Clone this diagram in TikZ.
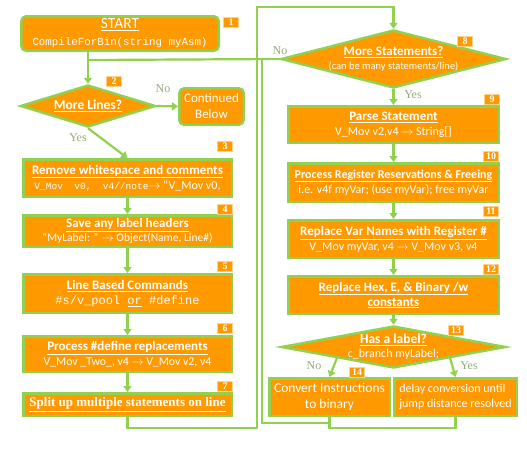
\documentclass[tikz,border=0pt]{standalone}
\usepackage{fontspec}
\setmainfont{Carlito}
\setmonofont{Liberation Mono}
\newfontfamily\serifface{Liberation Serif}
\usetikzlibrary{shapes.geometric,arrows.meta}

\definecolor{boxorange}{RGB}{255,153,0}
\definecolor{linegreen}{RGB}{146,208,80}
\definecolor{labelgray}{RGB}{150,170,120}

\newcommand{\steptitle}[1]{{\fontsize{13}{15}\selectfont\underline{\textbf{#1}}}}

\tikzset{
  stepbox/.style={draw=linegreen, line width=2.5pt, fill=boxorange, text=white, align=center, inner sep=1pt, font=\fontsize{12}{15}\selectfont},
  startbox/.style={stepbox, rounded corners=5pt},
  decision/.style={diamond, draw=linegreen, line width=2.5pt, fill=boxorange, inner sep=0pt},
  decisiontext/.style={text=white, align=center, inner sep=0pt, font=\fontsize{12}{14}\selectfont},
  badge/.style={fill=boxorange, draw=boxorange!45!white, line width=0.5pt, text=white, inner sep=0pt, minimum width=15pt, minimum height=10.5pt, font=\serifface\bfseries\fontsize{10}{10}\selectfont},
  flow/.style={linegreen, line width=2.2pt, -{Triangle[width=8pt,length=6pt]}},
  backline/.style={linegreen, line width=2.2pt},
  answer/.style={text=labelgray, font=\serifface\fontsize{12}{12}\selectfont, inner sep=0.75pt}
}

\begin{document}
\begin{tikzpicture}[x=1pt,y=1pt,yscale=-1,xscale=1]
\useasboundingbox (0,0) rectangle (527,450);

%Left column
\node [startbox, minimum width=197.5pt, minimum height=34.5pt, font=\fontsize{15.5}{17}\selectfont] (start) at (120,33.5) {\underline{START}\\ \texttt{\fontsize{10.8}{12}\selectfont CompileForBin(string myAsm)}};
\node [decision, minimum width=135pt, minimum height=42pt] (morelines) at (88,106) {};
\node [startbox, minimum width=64.5pt, minimum height=36.5pt, font=\fontsize{13}{16}\selectfont] (continued) at (211.5,106.5) {Continued\\ Below};
\node [stepbox, minimum width=208.5pt, minimum height=37.5pt] (remove) at (127.5,178) {\steptitle{Remove whitespace and comments}\\ \texttt{\fontsize{9.5}{12}\selectfont V\_Mov\ \ v0,\ \ v4//note}$\rightarrow$ “V\_Mov v0,};
\node [stepbox, minimum width=208.5pt, minimum height=31.5pt, font=\fontsize{11.5}{14}\selectfont] (labels) at (127.5,231) {\steptitle{Save any label headers}\\ “MyLabel: ” $\rightarrow$ Object(Name, Line\#)};
\node [stepbox, minimum width=208.5pt, minimum height=38.5pt] (linecmds) at (127.5,293.5) {\steptitle{Line Based Commands}\\ \texttt{\#s/v\_pool \underline{or} \#define}};
\node [stepbox, minimum width=208.5pt, minimum height=35.5pt, font=\fontsize{11.8}{15}\selectfont] (defines) at (127.5,354) {\steptitle{Process \#define replacements}\\ V\_Mov \_Two\_, v4 $\rightarrow$ V\_Mov v2, v4};
\node [stepbox, minimum width=208.5pt, minimum height=22.5pt, font=\serifface\bfseries\fontsize{13}{15}\selectfont] (split) at (127.5,404.5) {\underline{Split up multiple statements on line}};

%Right column
\node [decision, minimum width=225pt, minimum height=58pt] (morestmts) at (393.5,59) {};
\node [stepbox, minimum width=210.5pt, minimum height=36.5pt] (parse) at (393.5,124.5) {\steptitle{Parse Statement}\\ V\_Mov v2,v4 $\rightarrow$ String[]};
\node [stepbox, minimum width=210.5pt, minimum height=38.5pt] (regs) at (393.5,182.5) {{\fontsize{12}{15}\selectfont\underline{\textbf{Process Register Reservations \& Freeing}}}\\ i.e. v4f myVar; (use myVar); free myVar};
\node [stepbox, minimum width=210.5pt, minimum height=37.5pt] (varnames) at (393.5,239) {\steptitle{Replace Var Names with Register \#}\\ V\_Mov myVar, v4 $\rightarrow$ V\_Mov v3, v4};
\node [stepbox, minimum width=210.5pt, minimum height=37.5pt] (constants) at (393.5,295) {\steptitle{Replace Hex, E, \& Binary /w}\\ \steptitle{constants}};
\node [decision, minimum width=224pt, minimum height=42pt] (haslabel) at (393.5,347) {};
\node [stepbox, minimum width=120.5pt, minimum height=37.5pt, font=\fontsize{13.5}{16.5}\selectfont] (convert) at (329.5,397) {Convert Instructions\\ to binary};
\node [stepbox, minimum width=122.5pt, minimum height=37.5pt, align=left] (delay) at (455.5,397) {delay conversion until\\ jump distance resolved};

% Text Node
\node [decisiontext] (morelinestext) at (88,106) {{\fontsize{13.5}{15}\selectfont\underline{\textbf{More Lines?}}}};
% Text Node
\node [decisiontext] (morestmtstext) at (393.5,59) {\steptitle{More Statements?}\\ {\fontsize{10.5}{12}\selectfont(can be many statements/line)}};
% Text Node
\node [decisiontext] (haslabeltext) at (393.5,347) {{\fontsize{13.5}{15}\selectfont\underline{\textbf{Has a label?}}}\\ c\_branch myLabel;};

%Step numbers
\node [badge] (badge1) at (231,22) {1};
\node [badge] (badge2) at (114,81) {2};
\node [badge] (badge3) at (225,146) {3};
\node [badge] (badge4) at (225,209) {4};
\node [badge] (badge5) at (225,266) {5};
\node [badge] (badge6) at (225,328) {6};
\node [badge] (badge7) at (225,386) {7};
\node [badge] (badge8) at (465,41) {8};
\node [badge] (badge9) at (492,99) {9};
\node [badge] (badge10) at (491,156) {10};
\node [badge] (badge11) at (491,211) {11};
\node [badge] (badge12) at (491,269) {12};
\node [badge] (badge13) at (456,330) {13};
\node [badge] (badge14) at (357,372) {14};

%Joints of the return lines
\coordinate (joinstart) at (88,60);
\coordinate (outerbottom) at (257,428);
\coordinate (outertop) at (257,7);
\coordinate (innerbottom) at (262,423);
\coordinate (innertop) at (262,60);

%Connectors
\draw [flow] (start.south -| morelines.north) -- (morelines.north);
\draw [flow] (morelines.east) -- (continued.west);
\draw [flow] (morelines.south) -- (remove.north);
\draw [flow] (remove) -- (labels);
\draw [flow] (labels) -- (linecmds);
\draw [flow] (linecmds) -- (defines);
\draw [flow] (defines) -- (split);
\draw [flow] (split.south) -- (split.south |- outerbottom) -- (outerbottom) -- (outertop) -- (outertop -| morestmts.north) -- (morestmts.north);
\draw [backline] (joinstart) -- (morestmts.west);
\draw [flow] (morestmts) -- (parse);
\draw [flow] (parse) -- (regs);
\draw [flow] (regs) -- (varnames);
\draw [flow] (varnames) -- (constants);
\draw [flow] (constants) -- (haslabel);
\draw [flow] (haslabel.south west) -- (convert.north);
\draw [flow] (haslabel.south east) -- (delay.north);
\draw [backline] (convert.south) -- (convert.south |- innerbottom) -- (innerbottom) -- (innertop);
\draw [backline] (delay.south) -- (delay.south |- outerbottom) -- (convert.south |- outerbottom) -- (convert.south |- innerbottom);

% Text Node
\node [answer] (nolines) at (163,89) {No};
% Text Node
\node [answer] (yeslines) at (78,138) {Yes};
% Text Node
\node [answer] (nostmts) at (280,51) {No};
% Text Node
\node [answer] (yesstmts) at (413,95) {Yes};
% Text Node
\node [answer] (nolabel) at (314,366) {No};
% Text Node
\node [answer] (yeslabel) at (469,366) {Yes};

\end{tikzpicture}
\end{document}
